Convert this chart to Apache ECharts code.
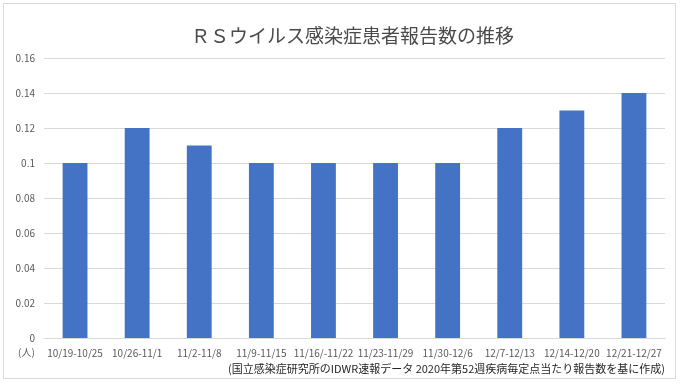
<!DOCTYPE html>
<html><head><meta charset="utf-8">
<script src="https://cdn.jsdelivr.net/npm/echarts@6/dist/echarts.min.js"></script>
<style>html,body{margin:0;padding:0;background:#fff}#c{width:680px;height:384px}</style>
</head><body><div id="c"></div>
<script>
const categories = ['10/19-10/25','10/26-11/1','11/2-11/8','11/9-11/15','11/16/-11/22','11/23-11/29','11/30-12/6','12/7-12/13','12/14-12/20','12/21-12/27'];
const values = [0.1, 0.12, 0.11, 0.1, 0.1, 0.1, 0.1, 0.12, 0.13, 0.14];
const yTicks = [0, 0.02, 0.04, 0.06, 0.08, 0.1, 0.12, 0.14, 0.16];
const titleText = 'ＲＳウイルス感染症患者報告数の推移';
const unitText = '(人)';
const sourceText = '(国立感染症研究所のIDWR速報データ 2020年第52週疾病毎定点当たり報告数を基に作成)';
const font = '"Noto Sans CJK JP", "Noto Sans", sans-serif';
const chart = echarts.init(document.getElementById('c'));
chart.setOption({
  animation: false,
  textStyle: { fontFamily: font },
  title: { text: titleText, left: 186, top: 21, textStyle: { fontSize: 19, fontWeight: 'normal', color: '#4a4a4a', fontFamily: font } },
  grid: { left: 44, right: 15, top: 58, bottom: 46 },
  xAxis: {
    type: 'category', data: categories,
    axisLine: { lineStyle: { color: '#d9d9d9' } },
    axisTick: { show: false },
    axisLabel: { color: '#595959', fontSize: 10, margin: 10, interval: 0 }
  },
  yAxis: {
    type: 'value', min: 0, max: 0.16, interval: 0.02,
    axisLine: { show: false }, axisTick: { show: false },
    splitLine: { lineStyle: { color: '#d9d9d9' } },
    axisLabel: { color: '#595959', fontSize: 10, margin: 9, formatter: v => { const t = yTicks.find(x => Math.abs(x - v) < 1e-9); return String(+(t ?? v).toFixed(2)); } }
  },
  series: [{ type: 'bar', data: values, barWidth: '40%', itemStyle: { color: '#4472C4' } }],
  graphic: [
    { type: 'rect', shape: { x: 3.5, y: 3.5, width: 672, height: 375 }, style: { fill: 'none', stroke: '#d9d9d9', lineWidth: 1 }, z: -1 },
    { type: 'text', left: 18, top: 347, style: { text: unitText, fontSize: 10, fill: '#595959', fontFamily: font } },
    { type: 'text', right: 15, top: 363, style: { text: sourceText, fontSize: 11, fill: '#262626', fontFamily: font } }
  ]
});
</script></body></html>
